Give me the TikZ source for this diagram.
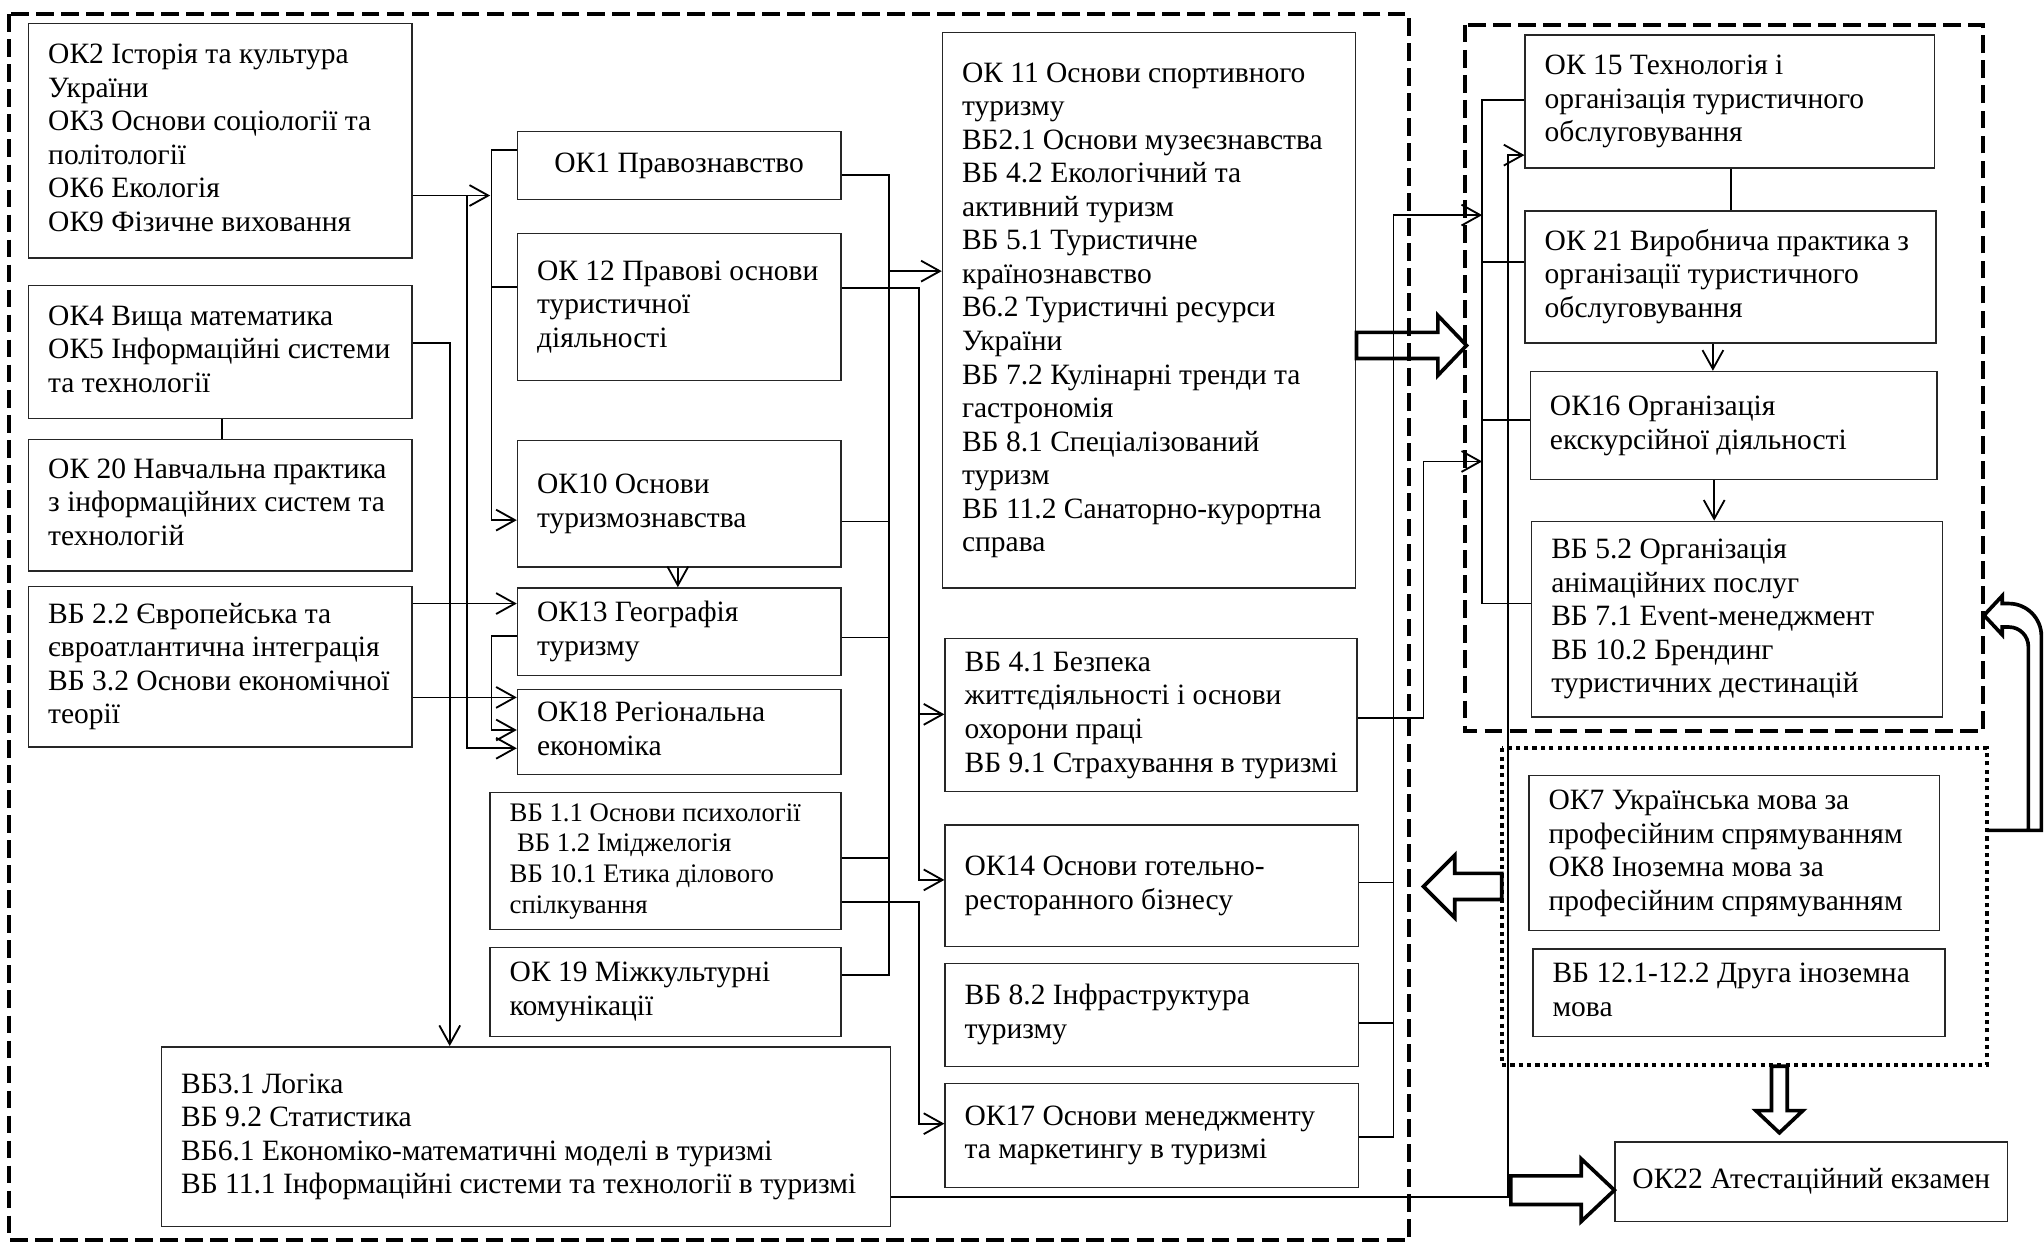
\documentclass[tikz,border=0pt]{standalone}
\usepackage{fontspec}
\setmainfont{Liberation Serif}
\usetikzlibrary{arrows.meta}
\newcommand{\fn}{\fontsize{16.1pt}{18.3pt}\selectfont}
\newcommand{\fsm}{\fontsize{14.6pt}{16.7pt}\selectfont}
\newcommand{\bx}[8][l]{%
  \pgfmathsetmacro\bxw{(#5-#3)*0.25}%
  \pgfmathsetmacro\bxh{(#6-#4)*0.25}%
  \pgfmathsetmacro\bxt{(#5-#3-30)*0.25}%
  \node[box, minimum width=\bxw mm, minimum height=\bxh mm] (#2) at ({(#3+#5)/2},{(#4+#6)/2})
    {\makebox[\bxt mm][#1]{#7\begin{tabular}{@{}#1@{}}#8\end{tabular}}};}
\begin{document}
\begin{tikzpicture}[x=0.25mm,y=-0.25mm,
  box/.style={draw=black!85, line width=0.8pt, inner sep=0pt, rectangle},
  ln/.style={line width=1pt},
  arr/.style={ln, -{Straight Barb[length=3.6mm,width=4mm]}},
  hol/.style={line width=2pt, line join=miter},
  dashbox/.style={line width=2.2pt, dash pattern=on 3.4mm off 1.4mm},
  dotbox/.style={line width=2.2pt, dash pattern=on 0.8mm off 0.8mm}]
\useasboundingbox (0,0) rectangle (1568,953);

% group frames
\draw[dashbox] (7,11) rectangle (1081,951);
\draw[dashbox] (1124,19) rectangle (1521,561);
\draw[dotbox] (1152,574) rectangle (1524,817);

% left column
\bx{ok2}{22}{18}{316}{198}{\fn}{ОК2 Історія та культура\\України\\ОК3 Основи соціології та\\політології\\ОК6 Екологія\\ОК9 Фізичне виховання}
\bx{ok4}{22}{219}{316}{321}{\fn}{ОК4 Вища математика\\ОК5 Інформаційні системи\\та технології}
\bx{ok20}{22}{337}{316}{438}{\fn}{ОК 20 Навчальна практика\\з інформаційних систем та\\технологій}
\bx{vb22}{22}{450}{316}{573}{\fn}{ВБ 2.2 Європейська та\\євроатлантична інтеграція\\ВБ 3.2 Основи економічної\\теорії}

% second column
\bx[c]{ok1}{397}{101}{645}{153}{\fn}{ОК1 Правознавство}
\bx{ok12}{397}{179}{645}{292}{\fn}{ОК 12 Правові основи\\туристичної\\діяльності}
\bx{ok10}{397}{338}{645}{435}{\fn}{ОК10 Основи\\туризмознавства}
\bx{ok13}{397}{451}{645}{518}{\fn}{ОК13 Географія\\туризму}
\bx{ok18}{397}{529}{645}{594}{\fn}{ОК18 Регіональна\\економіка}
\bx{vb11}{376}{608}{645}{713}{\fsm}{ВБ 1.1 Основи психології\\\hspace{4pt}ВБ 1.2 Іміджелогія\\ВБ 10.1 Етика ділового\\спілкування}
\bx{ok19}{376}{727}{645}{795}{\fn}{ОК 19 Міжкультурні\\комунікації}
\bx{vb31}{124}{803}{683}{941}{\fn}{ВБ3.1 Логіка\\ВБ 9.2 Статистика\\ВБ6.1 Економіко-математичні моделі в туризмі\\ВБ 11.1 Інформаційні системи та технології в туризмі}

% third column
\bx{ok11}{723}{25}{1040}{451}{\fn}{ОК 11 Основи спортивного\\туризму\\ВБ2.1 Основи музеєзнавства\\ВБ 4.2 Екологічний та\\активний туризм\\ВБ 5.1 Туристичне\\країнознавство\\В6.2 Туристичні ресурси\\України\\ВБ 7.2 Кулінарні тренди та\\гастрономія\\ВБ 8.1 Спеціалізований\\туризм\\ВБ 11.2 Санаторно-курортна\\справа}
\bx{vb41}{725}{490}{1041}{607}{\fn}{ВБ 4.1 Безпека\\життєдіяльності і основи\\охорони праці\\ВБ 9.1 Страхування в туризмі}
\bx{ok14}{725}{633}{1042}{726}{\fn}{ОК14 Основи готельно-\\ресторанного бізнесу}
\bx{vb82}{725}{739}{1042}{818}{\fn}{ВБ 8.2 Інфраструктура\\туризму}
\bx{ok17}{725}{831}{1042}{911}{\fn}{ОК17 Основи менеджменту\\та маркетингу в туризмі}

% right column
\bx{ok15}{1170}{27}{1484}{129}{\fn}{ОК 15 Технологія і\\організація туристичного\\обслуговування}
\bx{ok21}{1170}{162}{1485}{263}{\fn}{ОК 21 Виробнича практика з\\організації туристичного\\обслуговування}
\bx{ok16}{1174}{285}{1486}{368}{\fn}{ОК16 Організація\\екскурсійної діяльності}
\bx{vb52}{1175}{400}{1490}{550}{\fn}{ВБ 5.2 Організація\\анімаційних послуг\\ВБ 7.1 Event-менеджмент\\ВБ 10.2 Брендинг\\туристичних дестинацій}
\bx{ok7}{1173}{595}{1488}{714}{\fn}{ОК7 Українська мова за\\професійним спрямуванням\\ОК8 Іноземна мова за\\професійним спрямуванням}
\bx{vb121}{1176}{728}{1492}{795}{\fn}{ВБ 12.1-12.2 Друга іноземна\\мова}
\bx[c]{ok22}{1239}{876}{1540}{937}{\fn}{ОК22 Атестаційний екзамен}

% left connectors
\draw[arr] (ok1.west |- 0,115) -- (377,115) -- (377,399) -- (ok10.west |- 0,399);
\draw[ln] (377,220) -- (ok12.west |- 0,220);
\draw[arr] (ok2.east |- 0,150) -- (376,150);
\draw[arr] (358,150) -- (358,574) -- (ok18.west |- 0,574);
\draw[arr] (ok4.east |- 0,263) -- (345,263) -- (vb31.north -| 345,0);
\draw[ln] (ok4.south -| 170,0) -- (ok20.north -| 170,0);
\draw[arr] (vb22.east |- 0,463) -- (ok13.west |- 0,463);
\draw[arr] (vb22.east |- 0,535) -- (ok18.west |- 0,535);
\draw[arr] (ok13.west |- 0,488) -- (377,488) -- (377,560) -- (ok18.west |- 0,560);
\draw[arr] (ok10.south -| 520,0) -- (ok13.north -| 520,0);

% middle connectors
\draw[ln] (ok1.east |- 0,134) -- (682,134) -- (682,748) -- (ok19.east |- 0,748);
\draw[ln] (ok10.east |- 0,400) -- (682,400);
\draw[ln] (ok13.east |- 0,489) -- (682,489);
\draw[ln] (vb11.east |- 0,658) -- (682,658);
\draw[arr] (682,208) -- (ok11.west |- 0,208);
\draw[arr] (ok12.east |- 0,221) -- (705,221) -- (705,675) -- (ok14.west |- 0,675);
\draw[arr] (705,548) -- (vb41.west |- 0,548);
\draw[arr] (vb11.east |- 0,692) -- (705,692) -- (705,862) -- (ok17.west |- 0,862);

% right connectors
\draw[ln] (ok14.east |- 0,677) -- (1069,677);
\draw[ln] (vb82.east |- 0,785) -- (1069,785);
\draw[arr] (ok17.east |- 0,872) -- (1069,872) -- (1069,165) -- (1137,165);
\draw[arr] (vb41.east |- 0,551) -- (1092,551) -- (1092,354) -- (1137,354);
\draw[ln] (ok15.west |- 0,77) -- (1137,77) -- (1137,463) -- (vb52.west |- 0,463);
\draw[ln] (ok21.west |- 0,201) -- (1137,201);
\draw[ln] (ok16.west |- 0,322) -- (1137,322);
\draw[arr] (vb31.east |- 0,918) -- (1157,918) -- (1157,119) -- (ok15.west |- 0,119);
\draw[ln] (ok15.south -| 1328,0) -- (ok21.north -| 1328,0);
\draw[arr] (ok21.south -| 1314,0) -- (ok16.north -| 1314,0);
\draw[arr] (ok16.south -| 1315,0) -- (vb52.north -| 1315,0);

% hollow block arrows
\draw[hol] (ok11.east |- 0,255) -- (1103,255) -- (1103,242) -- (1125,265) -- (1103,288) -- (1103,275) -- (ok11.east |- 0,275) -- cycle;
\draw[hol] (1152,670) -- (1116,670) -- (1116,656) -- (1092,680) -- (1116,704) -- (1116,690) -- (1152,690) -- cycle;
\draw[hol] (1359,818) -- (1359,852) -- (1347,852) -- (1365,869) -- (1383,852) -- (1371,852) -- (1371,818) -- cycle;
\draw[hol] (1159,902) -- (1213,902) -- (1213,889) -- (ok22.west |- 0,913) -- (1213,937) -- (1213,924) -- (1159,924) -- cycle;
\draw[hol] (1524,637) -- (1566,637) -- (1566,488) arc[start angle=0, end angle=-90, radius=25]
  -- (1536,463) -- (1536,457) -- (1522,472) -- (1536,487) -- (1536,481) -- (1541,481)
  arc[start angle=-90, end angle=0, radius=15] -- (1556,637);
\end{tikzpicture}
\end{document}
